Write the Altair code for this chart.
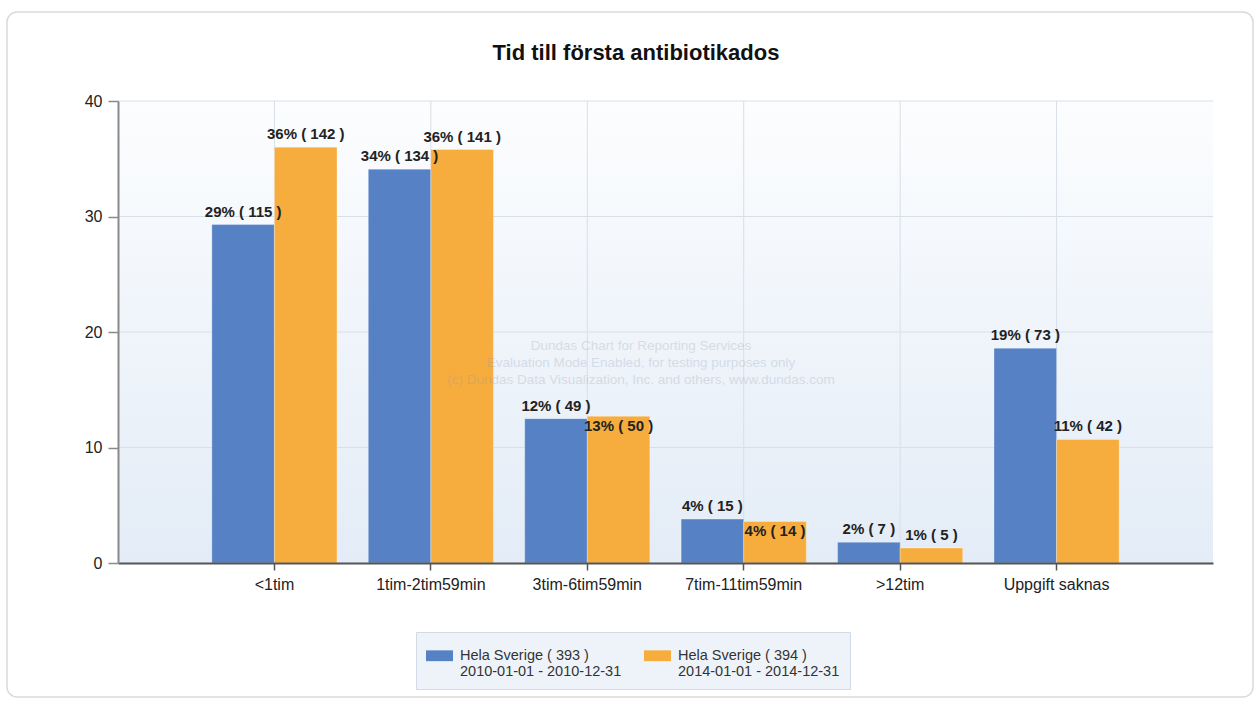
import altair as alt
import pandas as pd

# ---------------- data ----------------
categories = ["<1tim", "1tim-2tim59min", "3tim-6tim59min",
              "7tim-11tim59min", ">12tim", "Uppgift saknas"]
series = ["Hela Sverige  ( 393 )|2010-01-01 - 2010-12-31",
          "Hela Sverige  ( 394 )|2014-01-01 - 2014-12-31"]
values_2010 = [29.3, 34.1, 12.5, 3.8, 1.8, 18.6]
values_2014 = [36.0, 35.8, 12.7, 3.6, 1.3, 10.7]
pct_2010 = [29, 34, 12, 4, 2, 19]
pct_2014 = [36, 36, 13, 4, 1, 11]
counts_2010 = [115, 134, 49, 15, 7, 73]
counts_2014 = [142, 141, 50, 14, 5, 42]
y_ticks = [0, 10, 20, 30, 40]
grid_ticks = [10, 20, 30, 40]
watermark_lines = ["Dundas Chart for Reporting Services",
                   "Evaluation Mode Enabled, for testing purposes only",
                   "(c) Dundas Data Visualization, Inc. and others, www.dundas.com"]
title_text = "Tid till första antibiotikados"

rows = []
for idx, (vals, pcts, cnts) in enumerate([(values_2010, pct_2010, counts_2010),
                                          (values_2014, pct_2014, counts_2014)]):
    for c, v, p, n in zip(categories, vals, pcts, cnts):
        rows.append({"category": c, "series": series[idx], "order": idx,
                     "value": v, "label": f"{p}% ( {n} )"})
df = pd.DataFrame(rows)

BLUE = "#5682c5"
ORANGE = "#f6ad3e"
FONT = "Liberation Sans"
W, H = 1095, 462

x_axis = alt.Axis(title=None, labelAngle=0, labelAlign="center",
                  labelBaseline="top", grid=False, zindex=1,
                  domainColor="#555555", domainWidth=2,
                  tickColor="#555555", tickWidth=1.5, tickSize=7,
                  labelFont=FONT, labelFontSize=16, labelColor="#222222",
                  labelPadding=6)
y_axis = alt.Axis(title=None, values=y_ticks, grid=False, zindex=1,
                  domainColor="#8a8a8a", domainWidth=2,
                  tickColor="#8a8a8a", tickWidth=1.5, tickSize=10,
                  labelFont=FONT, labelFontSize=16, labelColor="#222222",
                  labelPadding=6)
x_scale = alt.Scale(domain=categories, paddingInner=0.2, paddingOuter=0.6)
y_scale = alt.Scale(domain=[0, 40], nice=False)


def xe():
    return alt.X("category:N", sort=categories, scale=x_scale, axis=x_axis)


def ye():
    return alt.Y("value:Q", scale=y_scale, axis=y_axis)


xoff = alt.XOffset("series:N", sort=series,
                   scale=alt.Scale(domain=series, paddingInner=0, paddingOuter=0))

one = alt.Data(values=[{}])

card = alt.Chart(one).mark_rect(
    fillOpacity=0, stroke="#dadada", strokeWidth=1.5, cornerRadius=10
).encode(x=alt.value(-111), x2=alt.value(1135), y=alt.value(-89), y2=alt.value(596))

title = alt.Chart(one).mark_text(
    text=title_text, font=FONT, fontSize=22, fontWeight="bold", color="#111111",
    align="center", baseline="alphabetic"
).encode(x=alt.value(518), y=alt.value(-41))

backdrop = alt.Chart(one).mark_rect(
    color=alt.Gradient(gradient="linear",
                       stops=[alt.GradientStop(color="#fcfdfe", offset=0),
                              alt.GradientStop(color="#e3ecf7", offset=1)],
                       x1=0, x2=0, y1=0, y2=1)
).encode(x=alt.value(0), x2=alt.value(W), y=alt.value(0), y2=alt.value(H))

hgrid = alt.Chart(pd.DataFrame({"value": grid_ticks})).mark_rule(
    color="#d9dfe7", strokeWidth=1
).encode(y=ye())

vgrid = alt.Chart(pd.DataFrame({"category": categories})).mark_rule(
    color="#d9dfe7", strokeWidth=1
).encode(x=xe(), y=alt.value(0), y2=alt.value(H))

bars = alt.Chart(df).mark_bar(stroke="white", strokeWidth=0.5, strokeOpacity=0.6).encode(
    x=xe(), xOffset=xoff, y=ye(),
    color=alt.Color("series:N", scale=alt.Scale(domain=series, range=[BLUE, ORANGE]),
                    legend=alt.Legend(title=None, orient="none", legendX=298, legendY=531,
                                      direction="horizontal", columns=2,
                                      symbolType="M-1,-0.4H1V0.4H-1Z", symbolSize=729,
                                      symbolStrokeWidth=0,
                                      labelExpr="split(datum.label, '|')",
                                      labelFont=FONT, labelFontSize=14.5,
                                      labelColor="#333333", labelLimit=400,
                                      labelOffset=7, columnPadding=22, padding=10,
                                      fillColor="#eef3fa", strokeColor="#d3dbe6"))
)

labelled = alt.Chart(df).transform_joinaggregate(
    vmax="max(value)", vmin="min(value)", groupby=["category"]
).transform_calculate(
    inside="datum.order == 1 && (datum.vmax - datum.vmin) < 0.4"
)

labels_above = labelled.transform_filter("!datum.inside").mark_text(
    font=FONT, fontSize=15, fontWeight="bold", color="#222222",
    baseline="alphabetic", dy=-8
).encode(x=xe(), xOffset=xoff, y=ye(), text="label:N")

labels_inside = labelled.transform_filter("datum.inside").mark_text(
    font=FONT, fontSize=15, fontWeight="bold", color="#222222",
    baseline="alphabetic", dy=15
).encode(x=xe(), xOffset=xoff, y=ye(), text="label:N")

watermark = alt.Chart(one).mark_text(
    text=watermark_lines, font=FONT, fontSize=13.5, lineHeight=17,
    color="#8796aa", opacity=0.25, align="center", baseline="middle"
).encode(x=alt.value(523), y=alt.value(245))

chart = alt.layer(
    card, title, backdrop, hgrid, vgrid, bars, labels_above, labels_inside, watermark
).properties(
    width=W, height=H,
    autosize=alt.AutoSizeParams(type="none"),
    padding={"left": 118, "top": 101, "right": 45, "bottom": 139},
    background="white"
).configure_view(stroke=None)

chart.save("out.html", embed_options={"renderer": "svg", "actions": False})
